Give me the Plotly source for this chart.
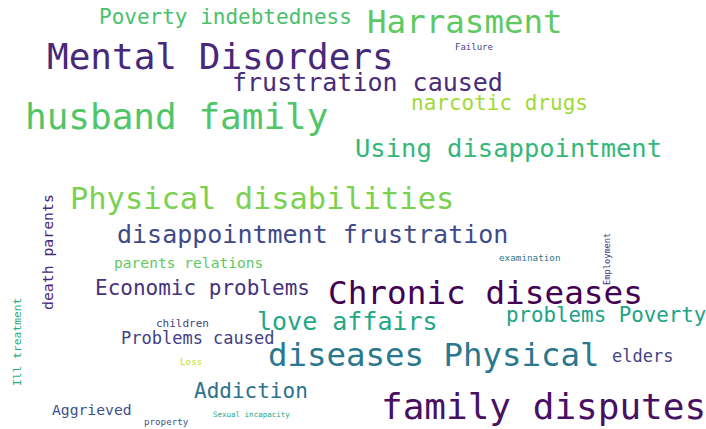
import plotly.graph_objects as go

# ---- data: words and their relative frequencies ----
words = [
    "Poverty indebtedness", "Harrasment", "Failure", "Mental Disorders",
    "frustration caused", "narcotic drugs", "husband family",
    "Using disappointment", "Physical disabilities",
    "disappointment frustration", "parents relations", "examination",
    "Employment", "death parents", "Ill treatment", "Economic problems",
    "Chronic diseases", "love affairs", "problems Poverty", "children",
    "Problems caused", "diseases Physical", "elders", "Loss", "Addiction",
    "Aggrieved", "property", "Sexual incapacity", "family disputes",
]
frequencies = [
    21, 32.5, 9, 36,
    25, 21, 36,
    25.5, 30.4,
    25, 14.6, 9.3,
    8.7, 14.8, 11.3, 21,
    32.7, 25, 20.8, 11,
    17, 32.4, 17, 9.3, 21,
    14.7, 9.2, 7.5, 36,
]

# ---- layout of the cloud (pixel positions, orientation, colours) ----
layout_pos = [
    (225, 17, 0), (465, 22, 0), (474, 47, 0), (220, 56, 0),
    (367, 82, 0), (499, 103, 0), (176, 116, 0),
    (508, 148, 0), (262, 198, 0),
    (312, 234, 0), (188, 262, 0), (530, 257, 0),
    (607, 259, -90), (47, 252, -90), (17, 342, -90), (202, 288, 0),
    (485, 293, 0), (347, 321, 0), (606, 315, 0), (182, 323, 0),
    (198, 338, 0), (434, 355, 0), (642, 356, 0), (191, 361, 0), (251, 391, 0),
    (92, 409, 0), (166, 421, 0), (251, 414, 0), (543, 406, 0),
]
colors = [
    "#4ac16d", "#5ec962", "#414487", "#482878",
    "#472c7a", "#a0da39", "#52c569",
    "#35b779", "#7ad151",
    "#3e4a89", "#5ec962", "#2a788e",
    "#443983", "#482878", "#29af7f", "#46327e",
    "#440154", "#22a884", "#20a386", "#414487",
    "#433e85", "#2a788e", "#414487", "#bddf26", "#2c728e",
    "#3b528b", "#3b528b", "#21a585", "#471063",
]

W, H = 706, 429

fig = go.Figure()
fig.add_trace(go.Scatter(x=[0, W], y=[0, H], mode="markers",
                         marker=dict(opacity=0), hoverinfo="skip",
                         showlegend=False))

for w, f, (x, y, ang), c in zip(words, frequencies, layout_pos, colors):
    fig.add_annotation(
        x=x, y=y, xref="x", yref="y", text=w, showarrow=False,
        textangle=ang, xanchor="center", yanchor="middle",
        font=dict(family="DejaVu Sans Mono", size=f, color=c),
        borderpad=0,
    )

fig.update_layout(
    width=W, height=H,
    margin=dict(l=0, r=0, t=0, b=0),
    paper_bgcolor="white", plot_bgcolor="white",
    xaxis=dict(range=[0, W], visible=False, fixedrange=True),
    yaxis=dict(range=[H, 0], visible=False, fixedrange=True),
    hovermode=False,
)

fig.write_html(
    "out.html",
    config={"displayModeBar": False, "staticPlot": True},
    post_script="document.body.style.margin='0';document.body.style.overflow='hidden';",
)
